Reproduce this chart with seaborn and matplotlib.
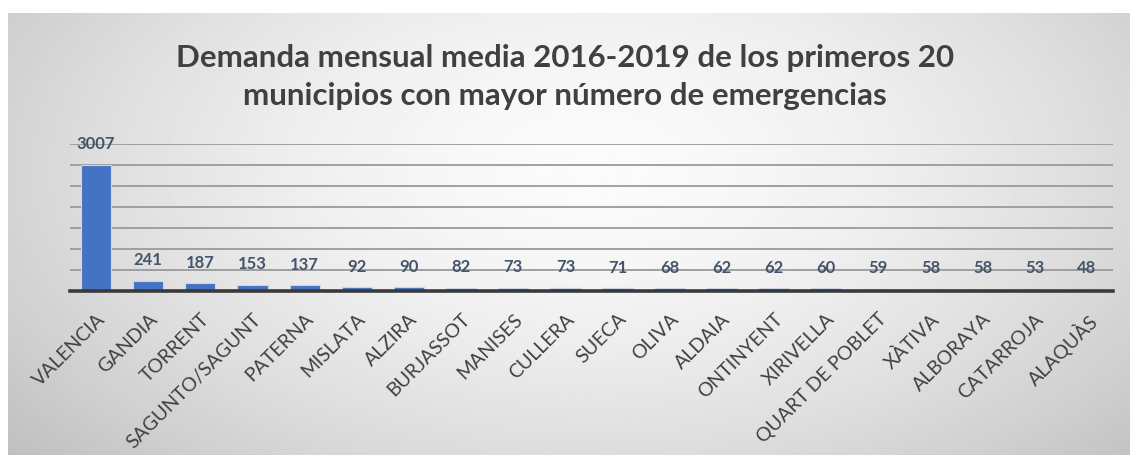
import numpy as np
import pandas as pd
import matplotlib
matplotlib.use("Agg")
import matplotlib.pyplot as plt
import seaborn as sns

# Average monthly demand 2016-2019, top 20 municipalities
municipios = ["VALENCIA", "GANDIA", "TORRENT", "SAGUNTO/SAGUNT", "PATERNA", "MISLATA",
              "ALZIRA", "BURJASSOT", "MANISES", "CULLERA", "SUECA", "OLIVA", "ALDAIA",
              "ONTINYENT", "XIRIVELLA", "QUART DE POBLET", "XÀTIVA", "ALBORAYA",
              "CATARROJA", "ALAQUÀS"]
demanda = [3007, 241, 187, 153, 137, 92, 90, 82, 73, 73, 71, 68, 62, 62, 60, 59,
           58, 58, 53, 48]
titulo = ("Demanda mensual media 2016-2019 de los primeros 20\n"
          "municipios con mayor número de emergencias")

df = pd.DataFrame({"municipio": municipios, "demanda": demanda})

sns.set_theme(style="white")
plt.rcParams["font.family"] = ["Lato", "DejaVu Sans"]

W, H = 1130, 455
fig = plt.figure(figsize=(W / 100, H / 100), dpi=100)
fig.patch.set_facecolor("white")

# Grey panel with a soft radial gradient
bg = fig.add_axes([8 / W, 0, 1 - 8 / W, (H - 13) / H], zorder=0)
yy, xx = np.mgrid[0:1:300j, 0:1:700j]
r = np.sqrt(((xx - 0.52) / 0.62) ** 2 + ((yy - 0.35) / 0.9) ** 2)
shade = np.clip(0.985 - 0.2 * r ** 1.6, 0.74, 0.985)
bg.imshow(shade, cmap="gray", vmin=0, vmax=1, aspect="auto",
          extent=[0, 1, 1, 0], interpolation="bilinear")
bg.set_axis_off()

ax = fig.add_axes([70 / W, (H - 291) / H, 1043 / W, (291 - 144) / H], zorder=1)
ax.patch.set_alpha(0)

sns.barplot(data=df, x="municipio", y="demanda", color="#4472C4", saturation=1,
            width=0.58, edgecolor="#c9d6ee", linewidth=0.8, ax=ax, zorder=3)

ax.set_ylim(0, 3500)
ax.set_xlim(-0.5, len(municipios) - 0.5)
ax.set_yticks(np.arange(500, 3501, 500))
ax.set_yticklabels([])
ax.grid(axis="y", color="#9a9a9a", linewidth=1.3, zorder=0)
ax.grid(axis="x", visible=False)
for s in ["top", "right", "left"]:
    ax.spines[s].set_visible(False)
ax.spines["bottom"].set_color("#3a3a3a")
ax.spines["bottom"].set_linewidth(2.6)
ax.spines["bottom"].set_zorder(5)
ax.tick_params(axis="y", length=0)
ax.tick_params(axis="x", length=0, pad=14)
ax.set_xlabel("")
ax.set_ylabel("")

ax.set_xticks(range(len(municipios)))
ax.set_xticklabels(municipios, rotation=45, ha="right", rotation_mode="anchor",
                   fontsize=14, color="#404040")

for i, v in enumerate(demanda):
    ax.annotate(str(v), (i, v), xytext=(0, 9), textcoords="offset points",
                ha="center", va="bottom", fontsize=12, fontweight="bold",
                color="#44546A", zorder=6)

fig.text(0.5, (H - 77) / H, titulo, ha="center", va="center", fontsize=22.5,
         fontweight="bold", color="#404040", linespacing=1.45)

fig.savefig("out.png", dpi=100)
